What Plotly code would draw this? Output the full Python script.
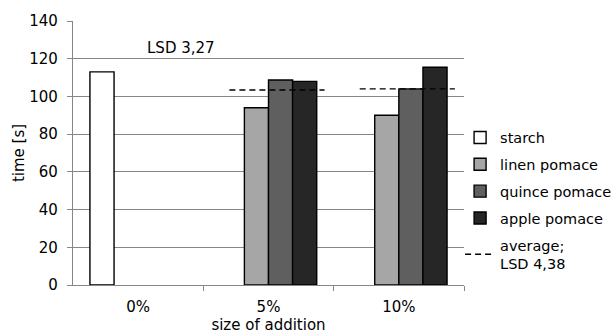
import plotly.graph_objects as go

categories = ["0%", "5%", "10%"]
series_names = ["starch", "linen pomace", "quince pomace", "apple pomace"]
starch = [113, None, None]
linen = [None, 94, 90]
quince = [None, 108.7, 104]
apple = [None, 108, 115.5]
average = [None, 103.4, 104]
colors = ["#ffffff", "#a6a6a6", "#5f5f5f", "#262626"]
y_ticks = [0, 20, 40, 60, 80, 100, 120, 140]

FONT = "DejaVu Sans, Arial, sans-serif"
FS = 15
x_idx = list(range(len(categories)))

fig = go.Figure()
for name, vals, col in zip(series_names, [starch, linen, quince, apple], colors):
    fig.add_trace(go.Bar(
        x=x_idx, y=vals, name=name, marker=dict(color=col, line=dict(color="#000000", width=1.4)),
        legendgroup=name,
    ))

# average dashed segments per category
ax, ay = [], []
for i, v in enumerate(average):
    if v is None:
        continue
    ax += [i - 0.30, i + 0.43, None]
    ay += [v, v, None]
fig.add_trace(go.Scatter(
    x=ax, y=ay, mode="lines", name="average;<br>LSD 4,38",
    line=dict(color="#000000", width=1.4, dash="6px,4px"), legendgroup="avg",
))

fig.add_annotation(x=0.33, y=125.7, xref="x", yref="y", text="LSD 3,27", showarrow=False,
                   font=dict(size=FS, color="#000000", family=FONT))

fig.update_layout(
    width=614, height=334,
    margin=dict(l=73, r=150, t=21, b=49, autoexpand=False),
    paper_bgcolor="white", plot_bgcolor="white",
    font=dict(family=FONT, size=FS, color="#000000"),
    barmode="group", bargap=0.26, bargroupgap=0,
    showlegend=True,
    legend=dict(x=0.99, y=0.318, xanchor="left", yanchor="middle", tracegroupgap=5,
                font=dict(size=14.5), itemwidth=30, bgcolor="rgba(0,0,0,0)"),
    xaxis=dict(
        range=[-0.5, 2.5], tickmode="array", tickvals=x_idx, ticktext=categories,
        ticks="", showgrid=False, zeroline=False, automargin=False,
        showline=True, linecolor="#868686", linewidth=1.3,
        minor=dict(tickmode="array", tickvals=[0.5, 1.5, 2.5], ticks="outside", ticklen=5,
                   tickcolor="#868686", tickwidth=1.3, showgrid=False),
        title=dict(text="size of addition", standoff=14, font=dict(size=FS)),
        tickfont=dict(size=FS), ticklabelstandoff=8,
    ),
    yaxis=dict(
        range=[0, 140], tickmode="array", tickvals=y_ticks, automargin=False,
        ticks="outside", ticklen=5, tickcolor="#868686", tickwidth=1.3,
        showgrid=True, gridcolor="#868686", gridwidth=1.3, zeroline=False,
        showline=True, linecolor="#868686", linewidth=1.3,
        title=dict(text="time [s]", standoff=0, font=dict(size=FS)),
        tickfont=dict(size=FS), ticklabelstandoff=6,
    ),
)

fig.write_html("out.html", config={"displayModeBar": False},
               post_script="document.body.style.margin='0';document.body.style.padding='0';")
